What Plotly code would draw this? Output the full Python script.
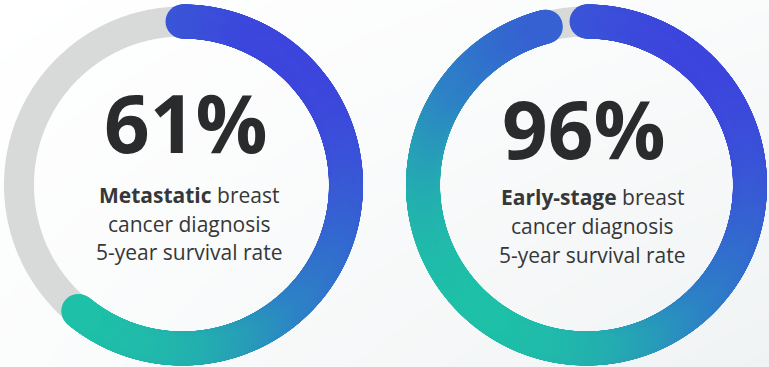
import numpy as np
import plotly.graph_objects as go

# Five-year survival rates by stage at diagnosis
survival_pct = [61, 96]
stage_terms = ["Metastatic", "Early-stage"]
caption_tail = " breast"
caption_lines = ["cancer diagnosis", "5-year survival rate"]

W, H = 769, 367
ring_centers = [(182.5, 185.0), (586.5, 185.0)]
ring_radius = 163.5
arc_width = 34
track_width = 30
track_color = "#D8DADA"

# teal (lower-left) to indigo (upper-right)
arc_scale = [
    [0.00, "#17CCA3"],
    [0.18, "#1FC0A8"],
    [0.28, "#24AEB0"],
    [0.45, "#2D84C5"],
    [0.62, "#3468D0"],
    [0.73, "#3A56D7"],
    [0.82, "#3D46DD"],
    [1.00, "#3E40DF"],
]

fig = go.Figure()

# soft page background
fig.add_trace(go.Heatmap(
    x=[0, W], y=[0, H], z=[[0.0, 0.35], [0.25, 1.0]],
    zsmooth="best", showscale=False, hoverinfo="skip",
    colorscale=[[0, "#FFFFFF"], [1, "#F0F3F4"]],
))

for (cx, cy), pct in zip(ring_centers, survival_pct):
    # full grey track
    th = np.linspace(0, 2 * np.pi, 721)
    fig.add_trace(go.Scatter(
        x=cx + ring_radius * np.sin(th), y=cy - ring_radius * np.cos(th),
        mode="lines",
        line=dict(color=track_color, width=track_width, simplify=False),
        hoverinfo="skip",
    ))
    # value arc, clockwise from 12 o'clock, built from dense round dots
    n = int(16 * pct) + 2
    th = np.linspace(0, 2 * np.pi * pct / 100.0, n)
    dx = ring_radius * np.sin(th)
    dy = -ring_radius * np.cos(th)
    shade = 0.5 + (dx - dy) / 720.0
    fig.add_trace(go.Scatter(
        x=cx + dx, y=cy + dy, mode="markers",
        marker=dict(size=arc_width, color=shade, cmin=0, cmax=1,
                    colorscale=arc_scale, line=dict(width=0)),
        hoverinfo="skip",
    ))

# centre labels
big_pos = [(186, 121), (584, 127)]
text_x = [189, 592]
line_y = [[195, 224, 252], [197, 226, 255]]
for i, pct in enumerate(survival_pct):
    fig.add_annotation(
        x=big_pos[i][0], y=big_pos[i][1], text=f"<b>{pct}%</b>",
        showarrow=False, xanchor="center", yanchor="middle",
        font=dict(family="Open Sans", size=80, color="#2A2B2D"),
    )
    rows = [f"<b>{stage_terms[i]}</b>{caption_tail}"] + caption_lines
    for row, yy in zip(rows, line_y[i]):
        fig.add_annotation(
            x=text_x[i], y=yy, text=row, showarrow=False,
            xanchor="center", yanchor="middle",
            font=dict(family="Open Sans", size=21, color="#363738"),
        )

fig.update_layout(
    width=W, height=H, margin=dict(l=0, r=0, t=0, b=0),
    paper_bgcolor="#FFFFFF", plot_bgcolor="#FFFFFF",
    showlegend=False, hovermode=False,
    xaxis=dict(range=[0, W], visible=False, fixedrange=True),
    yaxis=dict(range=[H, 0], visible=False, fixedrange=True),
)

fig.write_html("out.html", config={"displayModeBar": False})
